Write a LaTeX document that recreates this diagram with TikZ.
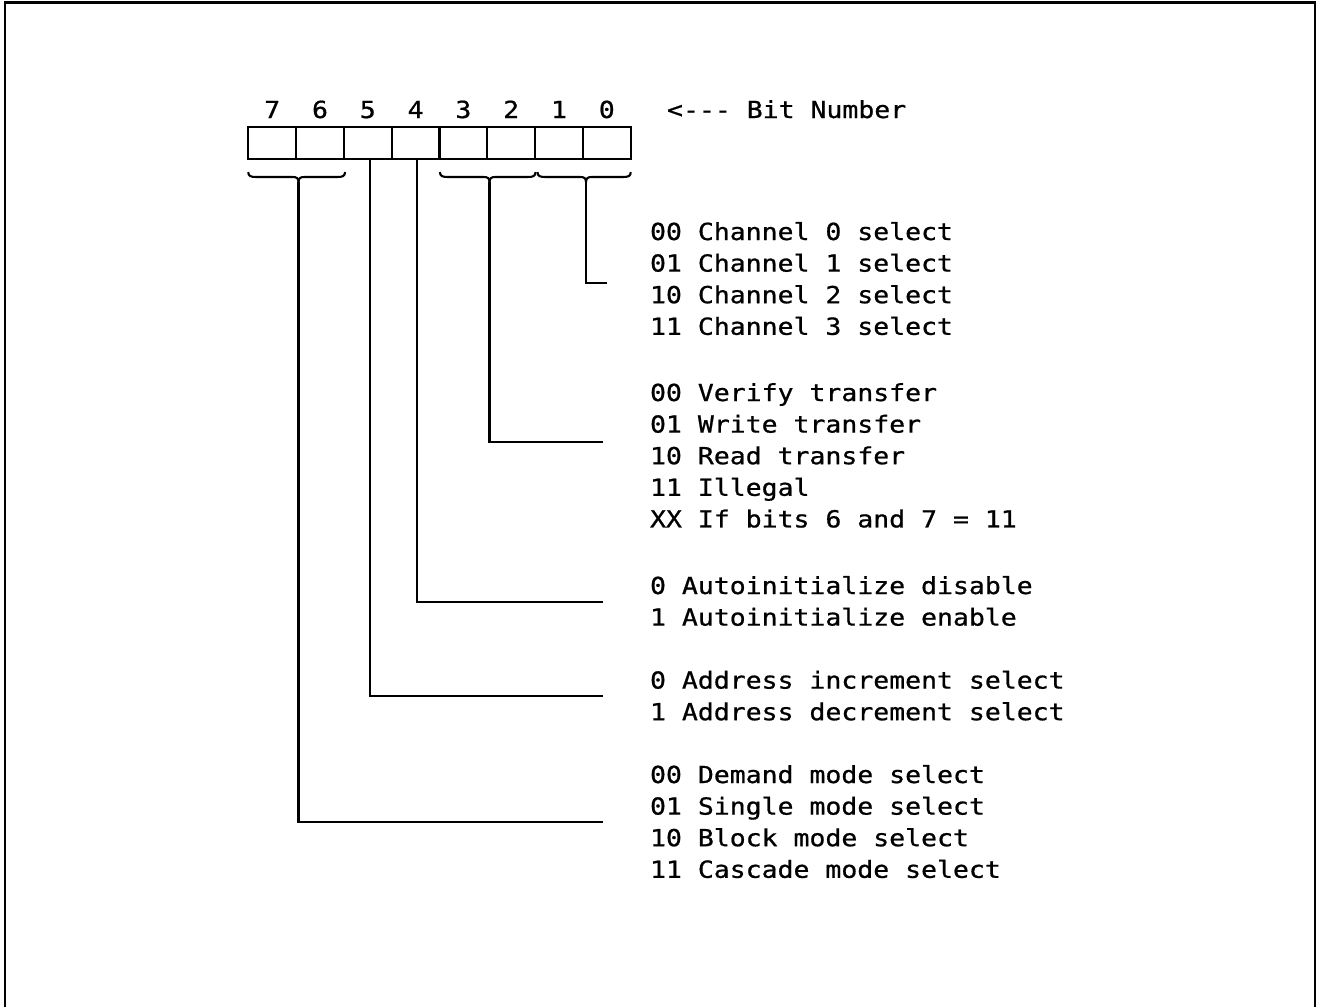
\documentclass[tikz,border=0pt]{standalone}
\usepackage{fontspec}
\newfontfamily\dmafont[FakeStretch=1.127,FakeBold=0.8]{DejaVu Sans Mono}
\newcommand\dmabrace[3]{%
  \draw (#1,172) .. controls (#1,176) and (#1+2,177) .. (#1+8,177) -- (#2-6,177)
        .. controls (#2-2,177) and (#2,178) .. (#2,182);
  \draw (#2,182) .. controls (#2,178) and (#2+2,177) .. (#2+6,177) -- (#3-8,177)
        .. controls (#3-2,177) and (#3,176) .. (#3,172);}
\begin{document}
\begin{tikzpicture}[x=1pt,y=-1pt,line width=2.1pt,
  lbl/.style={anchor=base west,inner sep=0pt,font=\dmafont\fontsize{23.5}{31.6}\selectfont},
  digit/.style={lbl,anchor=base},
  bitbox/.style={draw,rectangle,minimum width=47.8pt,minimum height=32.6pt,inner sep=0pt}]
\useasboundingbox (0,0) rectangle (1317,1007);
% frame (open at the bottom)
\draw (5,1007) -- (5,2.5) -- (1315,2.5) -- (1315,1007);
% bit boxes
\foreach \b/\x in {7/272.2,6/320,5/367.8,4/415.6,3/463.4,2/511.2,1/559,0/606.8}{
  \node[bitbox] (b\b) at (\x,143) {};
  \node[digit] (d\b) at (\x,118) {\b};
}
\node[lbl] (bitnum) at (666,118) {<--- Bit Number};
% braces
\dmabrace{248.3}{298.5}{345}
\dmabrace{440}{489.5}{535.5}
\dmabrace{537.5}{586}{630.7}
\coordinate (m76) at (298.5,182);
\coordinate (m32) at (489.5,182);
\coordinate (m10) at (586,182);
% connector ends
\coordinate (e10) at (607,283);
\coordinate (e32) at (603,442.3);
\coordinate (e4) at (603,601.7);
\coordinate (e5) at (603,696);
\coordinate (e76) at (603,822.3);
\draw (m10) |- (e10);
\draw (m32) |- (e32);
\draw ([xshift=1pt]b4.south) |- (e4);
\draw ([xshift=2pt]b5.south) |- (e5);
\draw (m76) |- (e76);
% texts
\node[lbl] (c0) at (649,240) {00 Channel 0 select};
\node[lbl] (c1) at (649,271.6) {01 Channel 1 select};
\node[lbl] (c2) at (649,303.2) {10 Channel 2 select};
\node[lbl] (c3) at (649,334.8) {11 Channel 3 select};
\node[lbl] (t0) at (649,401) {00 Verify transfer};
\node[lbl] (t1) at (649,432.6) {01 Write transfer};
\node[lbl] (t2) at (649,464.2) {10 Read transfer};
\node[lbl] (t3) at (649,495.8) {11 Illegal};
\node[lbl] (t4) at (649,527.4) {XX If bits 6 and 7 = 11};
\node[lbl] (a0) at (649,594) {0 Autoinitialize disable};
\node[lbl] (a1) at (649,625.6) {1 Autoinitialize enable};
\node[lbl] (i0) at (649,688.6) {0 Address increment select};
\node[lbl] (i1) at (649,720.2) {1 Address decrement select};
\node[lbl] (s0) at (649,783) {00 Demand mode select};
\node[lbl] (s1) at (649,814.6) {01 Single mode select};
\node[lbl] (s2) at (649,846.2) {10 Block mode select};
\node[lbl] (s3) at (649,877.8) {11 Cascade mode select};
\end{tikzpicture}
\end{document}
